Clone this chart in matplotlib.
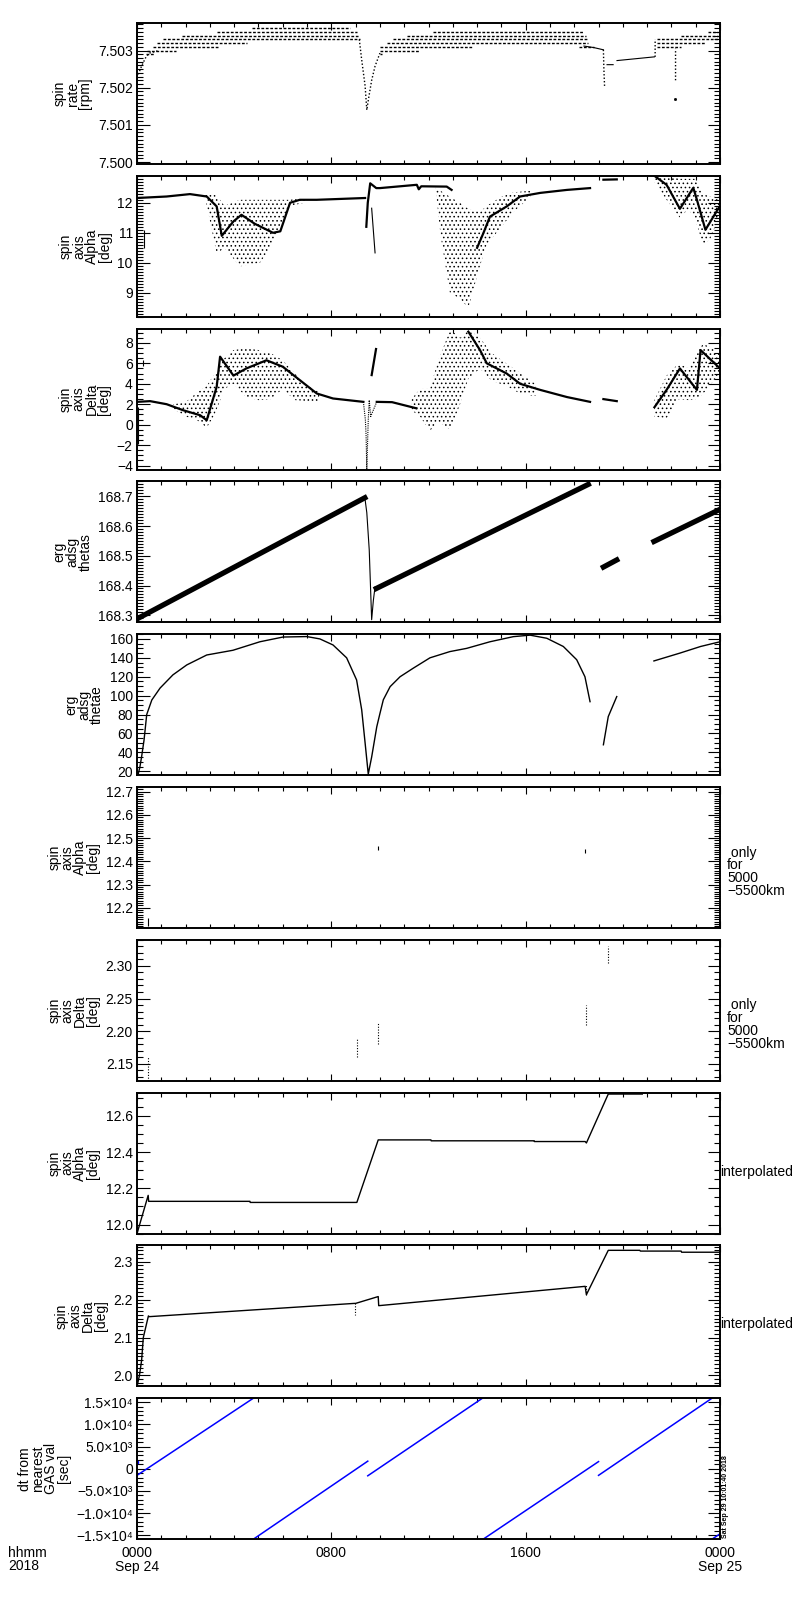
import numpy as np
import matplotlib
matplotlib.use('Agg')
import matplotlib.pyplot as plt
from matplotlib.ticker import MultipleLocator, FixedLocator

plt.rcParams['font.family'] = ['Liberation Sans', 'DejaVu Sans']
plt.rcParams['font.size'] = 10
plt.rcParams['hatch.linewidth'] = 0.6
plt.rcParams['axes.linewidth'] = 1.4

nan = np.nan

# ---- panel 1: spin rate (quantised levels, hours of Sep 24) ----
rate_lvl = [7.5029, 7.5030, 7.5031, 7.5032, 7.5033, 7.5034, 7.5035, 7.5036,
            7.5029, 7.5030, 7.5031, 7.5031, 7.5032, 7.5033, 7.5034, 7.5035,
            7.5031, 7.5032, 7.5033, 7.5034, 7.5035]
rate_t0 = [0.35, 0.40, 0.67, 0.81, 1.08, 1.84, 3.28, 4.72,
           10.0, 10.0, 10.0, 18.2, 10.28, 10.55, 11.1, 12.2,
           21.4, 21.4, 21.4, 22.4, 23.5]
rate_t1 = [0.70, 1.60, 3.35, 4.52, 9.18, 9.10, 9.04, 8.77,
           10.1, 11.6, 13.8, 18.8, 18.57, 18.57, 18.5, 18.36,
           22.4, 23.4, 23.9, 23.9, 23.9]
rate_dot_t = [0.05, 0.2, 0.35, 0.5, 0.9, nan,
              9.15, 9.25, 9.39, 9.46, 9.53, 9.66, 9.80, 10.0, nan,
              19.2, 19.22, 19.25, nan, 22.17, 22.17, nan, 21.33, 21.33]
rate_dot_v = [7.50236, 7.5026, 7.5028, 7.50293, 7.5030, nan,
              7.5033, 7.50275, 7.50205, 7.5014, 7.5017, 7.5022, 7.50258, 7.50293, nan,
              7.50302, 7.5025, 7.5020, nan, 7.5022, 7.50305, nan, 7.50283, 7.5033]
rate_line_t = [18.4, 18.8, 19.2, nan, 19.35, 19.6, nan, 19.76, 21.3]
rate_line_v = [7.50312, 7.50308, 7.50302, nan, 7.50262, 7.50262, nan, 7.50273, 7.50283]

# ---- panel 2: spin axis Alpha ----
alpha_t = [0.0, 1.22, 2.18, 2.87, 3.28, 3.49, 3.97, 4.3, 4.85, 5.6, 5.9, 6.3, 6.7, 7.4, 8.07, 9.39, nan,
           9.44, 9.5, 9.6, 9.85, 10.0, 11.52, 11.6, 11.7, 12.75, 12.95, nan,
           14.0, 14.26, 14.53, 15.22, 15.77, 16.6, 17.7, 18.65, nan,
           19.2, 19.75, nan,
           21.3, 21.8, 22.35, 22.9, 23.05, 23.4, 24.0]
alpha_v = [12.16, 12.21, 12.29, 12.21, 11.88, 10.9, 11.38, 11.6, 11.3, 11.0, 11.05, 12.0, 12.1, 12.1, 12.12, 12.16, nan,
           11.2, 12.0, 12.65, 12.49, 12.49, 12.6, 12.45, 12.55, 12.54, 12.43, nan,
           10.5, 10.99, 11.54, 11.88, 12.21, 12.33, 12.43, 12.49, nan,
           12.77, 12.78, nan,
           12.9, 12.6, 11.8, 12.5, 12.1, 11.1, 11.9]
alpha_fall_t = [9.66, 9.8]
alpha_fall_v = [11.82, 10.33]
alpha_cloud_t = [[2.8, 3.28, 3.6, 4.24, 5.06, 5.5, 5.75, 6.3, 6.9],
                 [12.3, 12.5, 12.88, 13.3, 13.64, 14.12, 14.4, 15.0, 15.5, 16.2],
                 [21.3, 21.8, 22.35, 22.7, 23.0, 23.3, 23.6, 24.0]]
alpha_cloud_lo = [[12.2, 10.3, 10.5, 9.88, 10.0, 10.5, 11.0, 11.9, 12.0],
                  [12.4, 10.9, 9.0, 8.8, 8.5, 9.9, 10.6, 11.2, 11.7, 12.2],
                  [12.7, 12.1, 11.5, 11.8, 11.4, 10.6, 10.8, 11.6]]
alpha_cloud_hi = [[12.3, 12.25, 11.9, 12.1, 12.1, 12.1, 12.1, 12.1, 12.2],
                  [12.5, 12.4, 12.2, 12.0, 11.8, 11.7, 11.9, 12.2, 12.35, 12.4],
                  [12.9, 12.9, 12.8, 12.8, 12.8, 12.3, 12.2, 12.2]]

# ---- panel 3: spin axis Delta ----
delta_t = [0.0, 0.54, 1.22, 1.9, 2.6, 2.87, 3.28, 3.42, 3.97, 4.5, 5.33, 6.0, 6.7, 7.4, 8.07, 9.32, nan,
           9.66, 9.84, nan,
           9.87, 10.5, 11.0, 11.5, nan,
           13.64, 14.12, 14.4, 15.22, 15.77, 16.6, 17.7, 18.65, nan,
           19.2, 19.75, nan,
           21.3, 21.8, 22.35, 23.05, 23.2, 24.0]
delta_v = [2.23, 2.3, 2.0, 1.41, 0.92, 0.43, 3.7, 6.65, 4.8, 5.5, 6.3, 5.67, 4.36, 3.05, 2.56, 2.23, nan,
           4.85, 7.4, nan,
           2.23, 2.2, 1.9, 1.6, nan,
           9.1, 7.3, 6.0, 5.0, 4.0, 3.4, 2.7, 2.23, nan,
           2.5, 2.3, nan,
           1.7, 3.4, 5.5, 3.4, 7.3, 5.5]
delta_dip_t = [9.32, 9.40, 9.43, 9.46, 9.52, 9.56, 9.62, 9.87]
delta_dip_v = [2.23, 0.5, -1.0, -4.4, 0.5, 2.4, 0.8, 2.23]
delta_cloud_t = [[1.5, 2.0, 2.5, 2.87, 3.2, 3.6, 3.97, 4.5, 5.0, 5.5, 6.0, 6.5, 7.0, 7.5],
                 [11.3, 11.65, 12.06, 12.4, 12.9, 13.3, 13.64, 14.12, 14.6, 15.2, 15.8, 16.4],
                 [21.3, 21.8, 22.3, 22.7, 23.0, 23.3, 23.7, 24.0]]
delta_cloud_lo = [[1.5, 0.8, 0.4, -0.3, 1.0, 3.5, 4.0, 2.7, 2.4, 2.5, 3.5, 2.4, 2.3, 2.3],
                  [1.4, 0.8, -0.6, 0.3, -0.5, 2.0, 4.5, 5.5, 4.3, 3.8, 3.0, 2.8],
                  [0.8, 0.6, 2.5, 2.4, 2.5, 3.0, 4.2, 5.0]]
delta_cloud_hi = [[2.0, 2.2, 3.2, 3.8, 5.0, 6.5, 7.3, 7.5, 7.3, 7.0, 6.3, 5.0, 3.8, 3.2],
                  [2.5, 3.5, 3.5, 6.3, 9.3, 8.5, 9.3, 8.5, 7.0, 6.0, 5.0, 4.0],
                  [2.4, 4.8, 6.0, 5.5, 7.0, 7.9, 7.5, 6.8]]

# ---- panel 4: erg adsg thetas ----
thetas_band_t = [0.05, 9.38, nan, 9.85, 18.58, nan, 19.2, 19.75, nan, 21.28, 24.0]
thetas_band_v = [168.29, 168.695, nan, 168.39, 168.74, nan, 168.462, 168.486, nan, 168.548, 168.656]
thetas_dip_t = [9.38, 9.46, 9.56, 9.66, 9.73, 9.80, 9.85]
thetas_dip_v = [168.695, 168.645, 168.52, 168.285, 168.35, 168.396, 168.39]

# ---- panel 5: erg adsg thetae ----
thetae_t = [0.05, 0.12, 0.19, 0.29, 0.40, 0.61, 0.95, 1.48, 2.05, 2.87, 3.95, 5.06, 6.01, 6.99, 7.53,
            8.07, 8.63, 9.04, 9.25, 9.39, 9.52, 9.66, 9.87, 10.0, 10.14, 10.42, 10.83, 11.37, 12.06,
            12.88, 13.57, 14.53, 15.49, 16.18, 16.87, 17.55, 18.10, 18.44, 18.65, nan,
            19.2, 19.4, 19.75, nan,
            21.28, 22.35, 23.2, 24.0]
thetae_v = [17, 24.6, 35.4, 53, 80, 95.4, 108, 122, 132.5, 143, 148, 157, 162, 162.5, 160,
            153.6, 140, 116.6, 85, 50, 17, 35, 67, 81, 95.6, 109.5, 120, 129, 140,
            146.6, 150, 157, 162.4, 164, 160.7, 152, 138, 120, 93.6, nan,
            48, 77.8, 99, nan,
            136.7, 145, 152, 157]

# ---- panels 6/7: only for 5000-5500 km ----
p6_t = [0.47, 9.93, 18.45]
p6_lo = [12.12, 12.45, 12.437]
p6_hi = [12.157, 12.465, 12.452]
p7_t = [0.47, 9.05, 9.93, 18.5, 19.4]
p7_lo = [2.124, 2.16, 2.18, 2.21, 2.305]
p7_hi = [2.16, 2.19, 2.213, 2.24, 2.33]

# ---- panels 8/9: interpolated ----
ialpha_t = [0.0, 0.46, 0.48, 4.65, 4.66, 9.05, 9.93, 12.1, 12.11, 16.35, 16.36, 18.45, 18.5, 19.4, 20.8]
ialpha_v = [11.95, 12.161, 12.128, 12.128, 12.122, 12.122, 12.467, 12.467, 12.462, 12.462,
            12.458, 12.458, 12.45, 12.72, 12.72]
idelta_t = [0.0, 0.1, 0.19, 0.26, 0.47, 0.5, 8.95, 9.0, 9.93, 9.95, 18.45, 18.5, 19.4, 20.7,
            20.72, 22.4, 22.42, 24.0]
idelta_v = [1.97, 2.0, 2.04, 2.10, 2.157, 2.155, 2.19, 2.19, 2.208, 2.184, 2.235, 2.213, 2.33,
            2.33, 2.328, 2.328, 2.325, 2.325]
idelta_dot_t = [8.97, 8.97, nan, 18.47, 18.47]
idelta_dot_v = [2.19, 2.16, nan, 2.213, 2.24]

# ---- panel 10: dt from nearest GAS value ----
dt_t = [0.0, 4.79, nan, 4.79, 9.50, nan, 9.50, 14.22, nan, 14.25, 19.0, nan,
        19.0, 23.67, nan, 23.67, 24.0]
dt_v = [-1500, 15900, nan, -15900, 1700, nan, -1600, 15900, nan, -15900, 1600, nan,
        -1500, 15900, nan, -15900, -14700]

panels = [
    ((7.49995, 7.50374), [7.500, 7.501, 7.502, 7.503], ['7.500', '7.501', '7.502', '7.503'], 0.0001,
     'spin\nrate\n[rpm]'),
    ((8.2, 12.9), [9, 10, 11, 12], ['9', '10', '11', '12'], 0.1, 'spin\naxis\nAlpha\n[deg]'),
    ((-4.4, 9.4), [-4, -2, 0, 2, 4, 6, 8], ['\u22124', '\u22122', '0', '2', '4', '6', '8'], 0.5,
     'spin\naxis\nDelta\n[deg]'),
    ((168.276, 168.75), [168.3, 168.4, 168.5, 168.6, 168.7],
     ['168.3', '168.4', '168.5', '168.6', '168.7'], 0.01, 'erg\nadsg\nthetas'),
    ((15.8, 165), [20, 40, 60, 80, 100, 120, 140, 160],
     ['20', '40', '60', '80', '100', '120', '140', '160'], 5, 'erg\nadsg\nthetae'),
    ((12.113, 12.72), [12.2, 12.3, 12.4, 12.5, 12.6, 12.7],
     ['12.2', '12.3', '12.4', '12.5', '12.6', '12.7'], 0.01, 'spin\naxis\nAlpha\n[deg]'),
    ((2.124, 2.34), [2.15, 2.20, 2.25, 2.30], ['2.15', '2.20', '2.25', '2.30'], 0.01,
     'spin\naxis\nDelta\n[deg]'),
    ((11.95, 12.728), [12.0, 12.2, 12.4, 12.6], ['12.0', '12.2', '12.4', '12.6'], 0.05,
     'spin\naxis\nAlpha\n[deg]'),
    ((1.971, 2.343), [2.0, 2.1, 2.2, 2.3], ['2.0', '2.1', '2.2', '2.3'], 0.01,
     'spin\naxis\nDelta\n[deg]'),
    ((-15900, 15900), [-15000, -10000, -5000, 0, 5000, 10000, 15000],
     ['\u22121.5\u00d710\u2074', '\u22121.0\u00d710\u2074', '\u22125.0\u00d710\u00b3', '0',
      '5.0\u00d710\u00b3', '1.0\u00d710\u2074', '1.5\u00d710\u2074'], 1000,
     'dt from\nnearest\nGAS val\n[sec]'),
]

fig = plt.figure(figsize=(8, 16), dpi=100)
W, H = 800.0, 1600.0
axes = []
for i, (ylim, ticks, labels, minor, ylabel) in enumerate(panels):
    top = 23 + 152.8 * i
    ax = fig.add_axes([137 / W, 1 - (top + 141) / H, 583 / W, 141 / H])
    ax.set_xlim(0, 24)
    ax.set_ylim(*ylim)
    ax.xaxis.set_major_locator(FixedLocator([0, 8, 16, 24]))
    ax.xaxis.set_minor_locator(MultipleLocator(1))
    ax.set_yticks(ticks, labels)
    ax.yaxis.set_minor_locator(MultipleLocator(minor))
    ax.tick_params(which='both', direction='in', top=True, right=True, width=0.8)
    ax.tick_params(axis='x', which='major', length=5, pad=5)
    ax.tick_params(axis='x', which='minor', length=3)
    ax.tick_params(axis='y', which='major', length=9, pad=3)
    ax.tick_params(axis='y', which='minor', length=4.5)
    ax.set_ylabel(ylabel, linespacing=0.9, labelpad=4)
    if i < 9:
        ax.set_xticklabels([])
    axes.append(ax)

k = dict(color='black', lw=0.8)

# panel 1
ax = axes[0]
ax.hlines(rate_lvl, rate_t0, rate_t1, colors='black', lw=1.0, linestyles=(0, (2, 1.2)))
ax.plot(rate_dot_t, rate_dot_v, color='black', lw=1.0, ls=(0, (1, 1.5)))
ax.plot(rate_line_t, rate_line_v, **k)
ax.plot([22.15], [7.50171], 's', ms=1, color='black')

# panel 2
ax = axes[1]
for t, lo, hi in zip(alpha_cloud_t, alpha_cloud_lo, alpha_cloud_hi):
    ax.fill_between(t, lo, hi, facecolor='none', edgecolor='black', hatch='....', lw=0)
ax.plot(alpha_t, alpha_v, color='black', lw=1.6)
ax.plot(alpha_fall_t, alpha_fall_v, **k)
ax.vlines([0.29], [10.5], [11.1], colors='black', lw=0.8)

# panel 3
ax = axes[2]
for t, lo, hi in zip(delta_cloud_t, delta_cloud_lo, delta_cloud_hi):
    ax.fill_between(t, lo, hi, facecolor='none', edgecolor='black', hatch='....', lw=0)
ax.plot(delta_t, delta_v, color='black', lw=1.6)
ax.plot(delta_dip_t, delta_dip_v, color='black', lw=0.8, ls=(0, (1, 1)))
ax.vlines([0.05, 0.26], [-1.9, 5.7], [1.7, 6.3], colors='black', lw=0.8)

# panel 4
ax = axes[3]
ax.plot(thetas_band_t, thetas_band_v, color='black', lw=3.8)
ax.plot(thetas_dip_t, thetas_dip_v, **k)

# panel 5
axes[4].plot(thetae_t, thetae_v, color='black', lw=1.0)

# panels 6, 7
axes[5].vlines(p6_t, p6_lo, p6_hi, colors='black', lw=0.8)
axes[6].vlines(p7_t, p7_lo, p7_hi, colors='black', lw=0.8, linestyles=(0, (1, 1.5)))

# panels 8, 9
axes[7].plot(ialpha_t, ialpha_v, color='black', lw=1.0)
axes[8].plot(idelta_t, idelta_v, color='black', lw=1.0)
axes[8].plot(idelta_dot_t, idelta_dot_v, color='black', lw=0.8, ls=(0, (1, 1.5)))

# panel 10
axes[9].plot(dt_t, dt_v, color='blue', lw=1.1)
axes[9].plot([0.0], [1600], 's', ms=1.5, color='blue')
axes[9].set_xticklabels(['0000\nSep 24', '0800', '1600', '0000\nSep 25'], linespacing=0.95)

for ax in axes[5:7]:
    ax.text(1.012, 0.585, ' only\nfor\n5000\n\u22125500km', transform=ax.transAxes,
            ha='left', va='top', linespacing=0.9)
for ax in axes[7:9]:
    ax.text(1.0, 0.44, 'interpolated', transform=ax.transAxes, ha='left', va='center')

fig.text(8 / W, 1 - 1546 / H, 'hhmm\n2018', ha='left', va='top', linespacing=0.95)
fig.text(722 / W, 1 - 1538 / H, 'Sat Sep 29 10:01:40 2018', rotation=90, fontsize=5,
         fontweight='bold', ha='left', va='bottom')

fig.savefig('out.png', dpi=100)
